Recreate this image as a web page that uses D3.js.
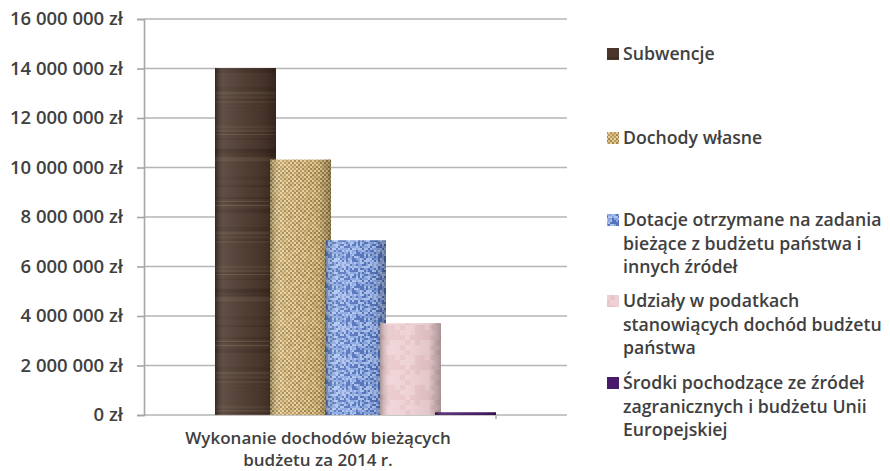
<!DOCTYPE html>
<html><head><meta charset="utf-8">
<script src="https://cdn.jsdelivr.net/npm/d3@7"></script>
<style>body{margin:0;background:#fff;} svg{display:block;font-family:"Open Sans",sans-serif;}</style>
</head><body>
<svg id="c" width="890" height="471"></svg>
<script>
const categories = ["Wykonanie dochodów bieżących budżetu za 2014 r."];
const seriesNames = [
  "Subwencje",
  "Dochody własne",
  "Dotacje otrzymane na zadania bieżące z budżetu państwa i innych źródeł",
  "Udziały w podatkach stanowiących dochód budżetu państwa",
  "Środki pochodzące ze źródeł zagranicznych i budżetu Unii Europejskiej"
];
const legendLines = [
  ["Subwencje"],
  ["Dochody własne"],
  ["Dotacje otrzymane na zadania", "bieżące z budżetu państwa i", "innych źródeł"],
  ["Udziały w podatkach", "stanowiących dochód budżetu", "państwa"],
  ["Środki pochodzące ze źródeł", "zagranicznych i budżetu Unii", "Europejskiej"]
];
const values = [14020000, 10320000, 7060000, 3710000, 110000];
const yTicks = [0, 2000000, 4000000, 6000000, 8000000, 10000000, 12000000, 14000000, 16000000];
const xLabelLines = ["Wykonanie dochodów bieżących", "budżetu za 2014 r."];

(function(){
const svg = d3.select("#c");
const defs = svg.append("defs");
const pLeft = 144, pRight = 567, pTop = 19, pBottom = 415;
const txt = "#404040";

const y = d3.scaleLinear().domain([0, 16000000]).range([pBottom, pTop]);
const fmt = v => (v === 0 ? "0" : d3.format(",")(v).replace(/,/g, " ")) + " zł";

const h = (i, j, s) => { const v = Math.sin(i * 12.9898 + j * 78.233 + s * 37.719) * 43758.5453; return v - Math.floor(v); };

(function(){
  const p = defs.append("pattern").attr("id","wood").attr("patternUnits","userSpaceOnUse").attr("width",62).attr("height",140);
  p.append("rect").attr("width",62).attr("height",140).attr("fill","#4a362b");
  for (let k = 0; k < 26; k++) {
    const yy = h(k,1,1) * 140, th = 1 + h(k,2,1) * 4;
    const c = h(k,3,1) > 0.55 ? "#65503f" : "#35261c";
    p.append("rect").attr("x",0).attr("y",yy).attr("width",62).attr("height",th).attr("fill",c).attr("opacity",0.25 + h(k,4,1)*0.3);
  }
  for (let k = 0; k < 4; k++) {
    p.append("rect").attr("x",0).attr("y",h(k,5,1)*140).attr("width",62).attr("height",0.8).attr("fill","#9c8266").attr("opacity",0.4);
  }
})();
(function(){
  const p = defs.append("pattern").attr("id","burlap").attr("patternUnits","userSpaceOnUse").attr("width",32).attr("height",32);
  p.append("rect").attr("width",32).attr("height",32).attr("fill","#cfb174");
  for (let i = 0; i < 16; i++) for (let j = 0; j < 16; j++) {
    const r = h(i,j,2);
    const c = ((i + j) % 2 === 0) ? (r > 0.4 ? "#ecd9a6" : "#dcc187") : (r > 0.5 ? "#9a7a45" : "#b39459");
    p.append("rect").attr("x",i*2).attr("y",j*2).attr("width",2).attr("height",2).attr("fill",c).attr("opacity",0.8);
  }
})();
(function(){
  const p = defs.append("pattern").attr("id","denim").attr("patternUnits","userSpaceOnUse").attr("width",32).attr("height",32);
  p.append("rect").attr("width",32).attr("height",32).attr("fill","#7697d8");
  for (let i = 0; i < 16; i++) for (let j = 0; j < 16; j++) {
    const r = h(i,j,3);
    const c = r > 0.66 ? "#b6caf2" : (r > 0.33 ? "#8ca8e2" : "#4e6fba");
    p.append("rect").attr("x",i*2).attr("y",j*2).attr("width",2).attr("height",2).attr("fill",c).attr("opacity",0.85);
  }
})();
(function(){
  const p = defs.append("pattern").attr("id","pink").attr("patternUnits","userSpaceOnUse").attr("width",30).attr("height",30);
  p.append("rect").attr("width",30).attr("height",30).attr("fill","#ebcbce");
  for (let i = 0; i < 6; i++) for (let j = 0; j < 6; j++) {
    const r = h(i,j,4);
    p.append("rect").attr("x",i*5).attr("y",j*5).attr("width",5).attr("height",5).attr("fill", r > 0.5 ? "#f3dde0" : "#e2bcc0").attr("opacity",0.35);
  }
})();
const sg = defs.append("linearGradient").attr("id","shade").attr("x1","0").attr("x2","1").attr("y1","0").attr("y2","0");
[[0,"#000",0.3],[0.15,"#fff",0.12],[0.45,"#fff",0.05],[0.8,"#000",0.05],[1,"#000",0.3]].forEach(([o,c,a]) =>
  sg.append("stop").attr("offset",o).attr("stop-color",c).attr("stop-opacity",a));

const fills = ["url(#wood)", "url(#burlap)", "url(#denim)", "url(#pink)", "#4a1a6a"];

svg.append("g").selectAll("line").data(yTicks).join("line")
  .attr("x1", pLeft).attr("x2", pRight).attr("y1", d => y(d)).attr("y2", d => y(d))
  .attr("stroke", "#b5b5b5").attr("stroke-width", 1.6);

const yAxis = svg.append("g").attr("transform", `translate(${pLeft},0)`)
  .call(d3.axisLeft(y).tickValues(yTicks).tickFormat(fmt).tickSize(7).tickPadding(14));
yAxis.select(".domain").attr("stroke", "#a6a6a6").attr("stroke-width", 1.6);
yAxis.selectAll(".tick line").attr("stroke", "#a6a6a6").attr("stroke-width", 1.6);
yAxis.selectAll(".tick text").attr("fill", txt).style("font-size", "18.5px").style("font-family", "Open Sans").style("font-weight","600");

const barW = 61, step = 55, startX = 215;
const xb = d3.scaleLinear().domain([0, 1]).range([startX, startX + step]);
const bars = svg.append("g");
values.forEach((v, i) => {
  const bx = xb(i);
  bars.append("rect").attr("x", bx).attr("y", y(v)).attr("width", barW).attr("height", y(0) - y(v)).attr("fill", fills[i]);
  bars.append("rect").attr("x", bx).attr("y", y(v)).attr("width", barW).attr("height", y(0) - y(v)).attr("fill", "url(#shade)");
});
svg.append("line").attr("x1", 496).attr("x2", 496).attr("y1", pBottom).attr("y2", pBottom + 4).attr("stroke", "#a6a6a6").attr("stroke-width", 1.4);

const xl = svg.append("text").attr("x", 318).attr("y", 444).attr("text-anchor", "middle")
  .attr("fill", txt).style("font-size", "17px").style("font-weight","600");
xLabelLines.forEach((t, i) => xl.append("tspan").attr("x", 318).attr("dy", i === 0 ? 0 : 21.5).text(t));

const legendY = [54, 138, 220, 301, 383];
const lg = svg.append("g");
legendLines.forEach((lines, i) => {
  lg.append("rect").attr("x", 607).attr("y", legendY[i] - 6).attr("width", 12).attr("height", 12).attr("fill", fills[i]);
  const t = lg.append("text").attr("x", 623).attr("y", legendY[i] + 6).attr("fill", txt).style("font-size", "17.7px").style("font-weight","600");
  lines.forEach((l, k) => t.append("tspan").attr("x", 623).attr("dy", k === 0 ? 0 : 23.5).text(l));
});
})();
</script>
</body></html>
